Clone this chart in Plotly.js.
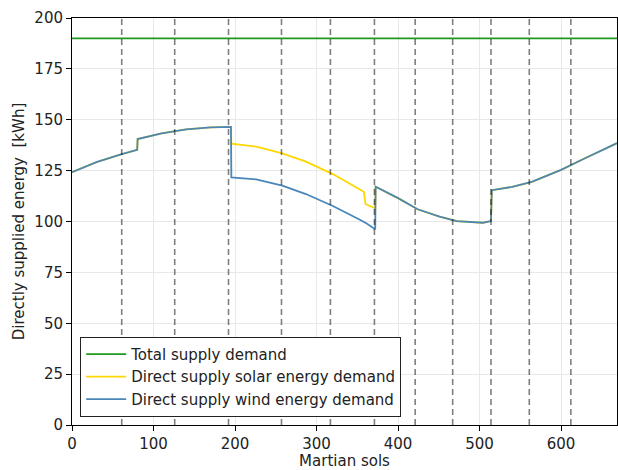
<!DOCTYPE html>
<html>
<head>
<meta charset="utf-8">
<script src="https://cdn.plot.ly/plotly-3.0.1.min.js"></script>
<style>html,body{margin:0;padding:0;background:#fff;}#chart{width:618px;height:470px;}</style>
</head>
<body>
<div id="chart"></div>
<script>
// Data (Martian sols vs kWh)
const totalSols = [0, 668.6];
const totalDemand = [190, 190];

const windSols = [0, 30, 60, 80, 80.5, 110, 140, 170, 195, 195.5, 226, 258, 287, 320, 352, 361, 372, 372.5, 400, 424, 451, 472, 504, 514, 515, 540, 564, 600, 630, 668.6];
const windDemand = [124.2, 129.2, 133.0, 135.2, 140.5, 143.3, 145.3, 146.3, 146.5, 121.7, 120.7, 117.6, 113.5, 107.6, 101.1, 99.1, 96.2, 117.1, 111.5, 106.0, 102.4, 100.2, 99.4, 100.2, 115.4, 117.0, 119.5, 125.4, 131.2, 138.5];

const solarSols = [0, 30, 60, 80, 80.5, 110, 140, 170, 195, 195.5, 226, 258, 287, 320, 358, 360, 372, 372.5, 400, 424, 451, 472, 504, 514, 515, 540, 564, 600, 630, 668.6];
const solarDemand = [124.2, 129.2, 133.0, 135.2, 140.5, 143.3, 145.3, 146.3, 146.5, 138.2, 136.8, 133.5, 129.4, 123.3, 114.6, 108.6, 106.5, 117.1, 111.5, 106.0, 102.4, 100.2, 99.4, 100.2, 115.4, 117.0, 119.5, 125.4, 131.2, 138.5];

const monthBoundaries = [61, 126, 192, 257, 317, 371, 421, 467, 514, 561, 612];

const seriesNames = ["Total supply demand", "Direct supply solar energy demand", "Direct supply wind energy demand"];
const xTicks = [0, 100, 200, 300, 400, 500, 600];
const yTicks = [0, 25, 50, 75, 100, 125, 150, 175, 200];

const font = "DejaVu Sans, sans-serif";
const fs = 15;

const traces = [
  {x: totalSols, y: totalDemand, name: seriesNames[0], mode: "lines", line: {color: "#1f9a1f", width: 1.8}},
  {x: solarSols, y: solarDemand, name: seriesNames[1], mode: "lines", line: {color: "#ffd700", width: 1.8}},
  {x: windSols, y: windDemand, name: seriesNames[2], mode: "lines", line: {color: "#4a87b8", width: 1.8}}
];

const shapes = monthBoundaries.map(s => ({
  type: "line", xref: "x", yref: "paper", x0: s, x1: s, y0: 0, y1: 1,
  line: {color: "rgba(0,0,0,0.5)", width: 1.6, dash: "6px,4px"}, layer: "above"
}));

const layout = {
  width: 618, height: 470,
  margin: {l: 72, r: 1, t: 18, b: 45},
  paper_bgcolor: "#fff", plot_bgcolor: "#fff",
  font: {family: font, size: fs, color: "#222"},
  showlegend: true,
  legend: {
    x: 0.015, y: 0.02, xanchor: "left", yanchor: "bottom",
    bgcolor: "#fff", bordercolor: "#222", borderwidth: 1,
    font: {family: font, size: fs, color: "#222"},
    tracegroupgap: 0, itemwidth: 40
  },
  xaxis: {
    range: [0, 668.6], tickvals: xTicks, ticktext: xTicks.map(String),
    showgrid: true, gridcolor: "#e8e8e8", gridwidth: 1,
    showline: true, linecolor: "#000", linewidth: 1, mirror: true,
    ticks: "outside", ticklen: 5, tickcolor: "#000", zeroline: false,
    tickfont: {family: font, size: fs, color: "#222"},
    title: {text: "Martian sols", font: {family: font, size: fs, color: "#222"}, standoff: 6}
  },
  yaxis: {
    range: [0, 200], tickvals: yTicks, ticktext: yTicks.map(String),
    showgrid: true, gridcolor: "#e8e8e8", gridwidth: 1,
    showline: true, linecolor: "#000", linewidth: 1, mirror: true,
    ticks: "outside", ticklen: 5, tickcolor: "#000", zeroline: false,
    tickfont: {family: font, size: fs, color: "#222"},
    title: {text: "Directly supplied energy  [kWh]", font: {family: font, size: fs, color: "#222"}, standoff: 6}
  },
  shapes: shapes
};

Plotly.newPlot("chart", traces, layout, {displayModeBar: false, staticPlot: true});
</script>
</body>
</html>
